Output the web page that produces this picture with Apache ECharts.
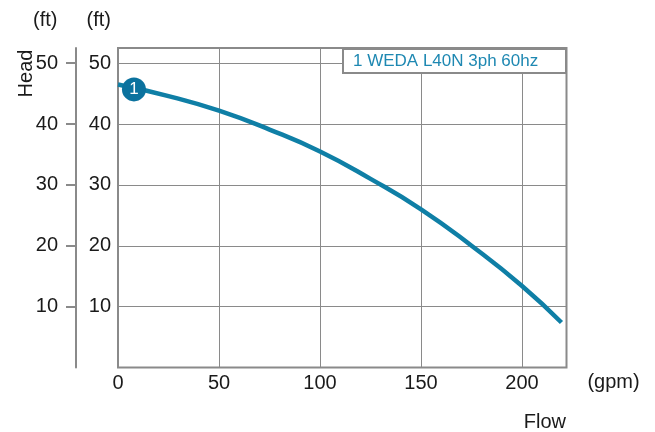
<!DOCTYPE html>
<html>
<head>
<meta charset="utf-8">
<script src="https://cdn.jsdelivr.net/npm/echarts@6/dist/echarts.min.js"></script>
<style>
html,body{margin:0;padding:0;background:#fff;}
#c{width:655px;height:432px;}
</style>
</head>
<body>
<div id="c"></div>
<script>
const flow = [0, 25, 50, 75, 100, 125, 150, 175, 200, 219.5];
const head = [46.5, 44.6, 42.2, 39.1, 35.5, 31.0, 26.0, 20.0, 13.4, 7.4];
const markerPoint = [7.9, 45.7];
const markerLabel = '1';
const legendText = '1 WEDA L40N 3ph 60hz';
const yTicks = [10, 20, 30, 40, 50];

const FONT = 'Liberation Sans, Arial, Helvetica, sans-serif';
const GRAY = '#8a8a8a';
const TEAL = '#0f7fa6';

const chart = echarts.init(document.getElementById('c'), null, {renderer: 'canvas'});
const option = {
  animation: false,
  backgroundColor: '#fff',
  textStyle: {fontFamily: FONT},
  grid: {left: 118, right: 88.5, top: 48, bottom: 64.5, show: true, borderColor: GRAY, borderWidth: 2, backgroundColor: 'transparent'},
  xAxis: {
    type: 'value', min: 0, max: 222, interval: 50,
    axisLine: {show: false}, axisTick: {show: false},
    axisLabel: {fontSize: 20, color: '#1a1a1a', margin: 6, fontFamily: FONT, showMaxLabel: false},
    splitLine: {show: true, lineStyle: {color: GRAY, width: 1}}
  },
  yAxis: [
    {
      type: 'value', min: 0, max: 52.5, interval: 10, position: 'left',
      axisLine: {show: false}, axisTick: {show: false},
      axisLabel: {fontSize: 20, color: '#1a1a1a', margin: 7, fontFamily: FONT, showMaxLabel: false,
        formatter: v => (v === 0 ? '' : String(v))},
      splitLine: {show: true, lineStyle: {color: GRAY, width: 1}}
    },
    {
      type: 'value', min: 0, max: 52.5, interval: 10, position: 'left', offset: 42,
      axisLine: {show: true, lineStyle: {color: GRAY, width: 2}},
      axisTick: {show: true, length: 10, inside: false, lineStyle: {color: GRAY, width: 2}, customValues: yTicks},
      axisLabel: {fontSize: 20, color: '#1a1a1a', margin: 18, fontFamily: FONT, customValues: yTicks,
        formatter: v => (v === 0 ? '' : String(v))},
      splitLine: {show: false}
    }
  ],
  series: [
    {
      type: 'line', xAxisIndex: 0, yAxisIndex: 0, smooth: true, symbol: 'none',
      lineStyle: {color: TEAL, width: 4.5},
      data: flow.map((f, i) => [f, head[i]]), z: 3
    },
    {
      type: 'scatter', xAxisIndex: 0, yAxisIndex: 0, symbol: 'circle', symbolSize: 24,
      itemStyle: {color: '#0b729e', opacity: 1},
      label: {show: true, position: 'inside', formatter: markerLabel, color: '#fff', fontSize: 17, fontFamily: FONT},
      data: [markerPoint], z: 5
    }
  ],
  graphic: [
    {type: 'rect', shape: {x: 343, y: 49, width: 223, height: 24}, style: {fill: '#fff', stroke: GRAY, lineWidth: 2}, z: 10},
    {type: 'text', x: 353, y: 61.5, style: {text: legendText, fill: '#1e88b2', fontSize: 17, fontFamily: FONT, verticalAlign: 'middle'}, z: 11},
    {type: 'text', x: 57.5, y: 20, style: {text: '(ft)', fill: '#1a1a1a', fontSize: 20, fontFamily: FONT, align: 'right', verticalAlign: 'middle'}},
    {type: 'text', x: 111, y: 20, style: {text: '(ft)', fill: '#1a1a1a', fontSize: 20, fontFamily: FONT, align: 'right', verticalAlign: 'middle'}},
    {type: 'text', x: 26, y: 73.5, rotation: Math.PI / 2, style: {text: 'Head', fill: '#1a1a1a', fontSize: 20, fontFamily: FONT, align: 'center', verticalAlign: 'middle'}},
    {type: 'text', x: 613.5, y: 382, style: {text: '(gpm)', fill: '#1a1a1a', fontSize: 20, fontFamily: FONT, align: 'center', verticalAlign: 'middle'}},
    {type: 'text', x: 566, y: 422, style: {text: 'Flow', fill: '#1a1a1a', fontSize: 20, fontFamily: FONT, align: 'right', verticalAlign: 'middle'}}
  ]
};
chart.setOption(option);
</script>
</body>
</html>
